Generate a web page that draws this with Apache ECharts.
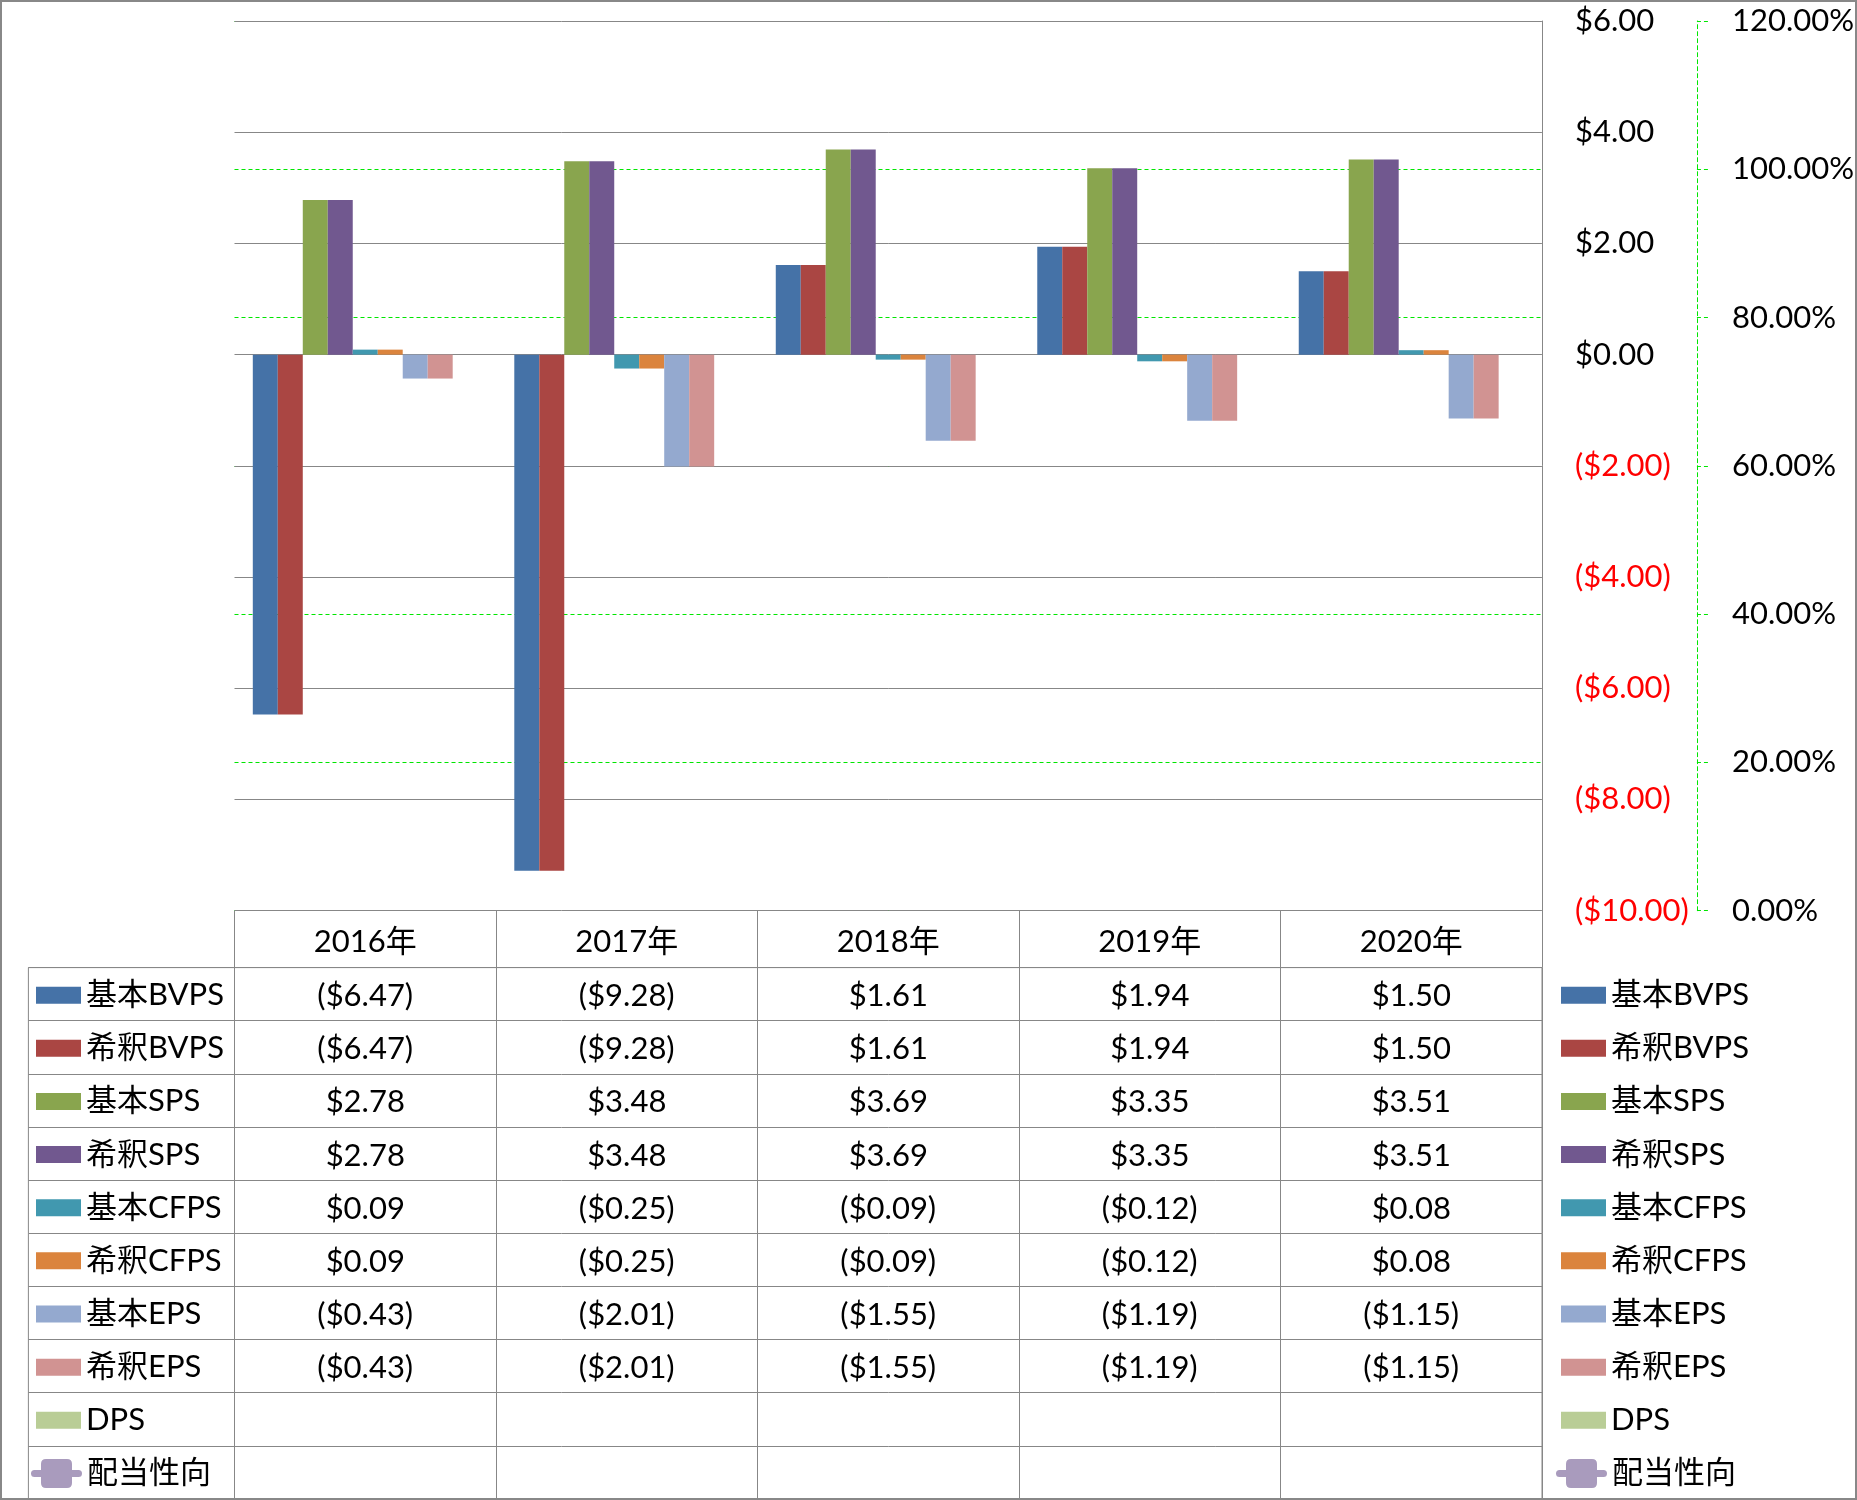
<!DOCTYPE html>
<html><head><meta charset="utf-8">
<script src="https://cdn.jsdelivr.net/npm/echarts/dist/echarts.min.js"></script>
<style>
html,body{margin:0;padding:0;background:#fff}
#wrap{position:relative;width:1857px;height:1500px}
#c{position:absolute;left:0;top:0;width:1857px;height:1500px}
#frame{position:absolute;left:0;top:0;width:1857px;height:1500px;box-sizing:border-box;border:2px solid #888;pointer-events:none;z-index:10}
</style>
</head><body>
<div id="wrap"><div id="c"></div><div id="frame"></div></div>
<script>
// ---------- data ----------
const years = ['2016年', '2017年', '2018年', '2019年', '2020年'];
const seriesNames = ['基本BVPS', '希釈BVPS', '基本SPS', '希釈SPS', '基本CFPS', '希釈CFPS', '基本EPS', '希釈EPS', 'DPS', '配当性向'];
const basicBVPS   = [-6.47, -9.28, 1.61, 1.94, 1.50];
const dilutedBVPS = [-6.47, -9.28, 1.61, 1.94, 1.50];
const basicSPS    = [2.78, 3.48, 3.69, 3.35, 3.51];
const dilutedSPS  = [2.78, 3.48, 3.69, 3.35, 3.51];
const basicCFPS   = [0.09, -0.25, -0.09, -0.12, 0.08];
const dilutedCFPS = [0.09, -0.25, -0.09, -0.12, 0.08];
const basicEPS    = [-0.43, -2.01, -1.55, -1.19, -1.15];
const dilutedEPS  = [-0.43, -2.01, -1.55, -1.19, -1.15];
const dps         = [null, null, null, null, null];
const payoutRatio = [null, null, null, null, null];
const primaryAxis = { min: -10, max: 6, interval: 2 };
const secondaryAxis = { min: 0, max: 120, interval: 20 };

// ---------- styles ----------
const colors = ['#4572A7', '#AA4643', '#89A54E', '#71588F', '#4198AF', '#DB843D', '#94A9CF', '#D19392', '#B9CD96', '#A99BBD'];
const FONT = "Lato, 'Noto Sans CJK JP', sans-serif";
const FS = 31;
const GRAY = '#878787';
const GREEN = '#00E600';

const rows = [basicBVPS, dilutedBVPS, basicSPS, dilutedSPS, basicCFPS, dilutedCFPS, basicEPS, dilutedEPS, dps, payoutRatio];

function money(v) {
  v = Number(v);
  return v < 0 ? '($' + Math.abs(v).toFixed(2) + ')' : '$' + v.toFixed(2);
}

// layout
const PL = 234.5, PW = 1307.5, PT = 21, PH = 889.7;
const TT = 967.6, TH = 531.4, rowH = TH / 10;

const cellData = [];
rows.forEach((arr, r) => arr.forEach((v, c) => { if (v !== null) cellData.push([c, r, v]); }));

const barSeries = seriesNames.slice(0, 9).map((name, i) => ({
  name: name, type: 'bar', xAxisIndex: 0, yAxisIndex: 0,
  data: rows[i], barGap: '0%', barCategoryGap: '14%',
  itemStyle: { color: colors[i] }, z: 3
}));

const lineSeries = {
  name: '配当性向', type: 'line', xAxisIndex: 0, yAxisIndex: 1,
  data: payoutRatio, symbol: 'roundRect', symbolSize: 14,
  itemStyle: { color: colors[9], borderWidth: 0 }, lineStyle: { color: colors[9], width: 5 }
};

const lineIcon = 'path://M15,0 L36,0 Q41,0 41,5 L41,11 L47.5,11 Q51,11 51,14.5 Q51,18 47.5,18 L41,18 L41,24 Q41,29 36,29 L15,29 Q10,29 10,24 L10,18 L3.5,18 Q0,18 0,14.5 Q0,11 3.5,11 L10,11 L10,5 Q10,0 15,0 Z';

const legendText = { fontSize: FS, fontFamily: FONT, color: '#000', lineHeight: rowH };
const barLegend = (left) => ({
  orient: 'vertical', left: left, top: TT + 1, itemWidth: 45, itemHeight: 17, itemGap: 0, padding: 0,
  icon: 'rect', selectedMode: false, textStyle: legendText, data: seriesNames.slice(0, 9),
  itemStyle: { borderWidth: 0 }
});
const lineLegend = (left) => ({
  orient: 'vertical', left: left, top: TT + 9 * rowH + 1, itemWidth: 51, itemHeight: 29, itemGap: 0, padding: 0,
  selectedMode: false, textStyle: legendText, symbolKeepAspect: false,
  data: [{ name: '配当性向', icon: lineIcon, itemStyle: { color: colors[9], borderWidth: 0 } }]
});

const option = {
  animation: false,
  textStyle: { fontFamily: FONT },
  legend: [barLegend(36), barLegend(1561), lineLegend(31), lineLegend(1556)],
  grid: [
    { left: PL, top: PT, width: PW, height: PH, show: false },
    { left: PL, top: TT, width: PW, height: TH, show: true, borderColor: GRAY, borderWidth: 1, backgroundColor: 'transparent' },
    { left: 28.4, top: TT, width: PL - 28.4, height: TH, show: true, borderColor: GRAY, borderWidth: 1, backgroundColor: 'transparent' }
  ],
  xAxis: [
    { type: 'category', gridIndex: 0, data: years, axisLine: { show: false }, axisTick: { show: false }, axisLabel: { show: false }, splitLine: { show: false } },
    { type: 'category', gridIndex: 1, data: years, position: 'top',
      axisLine: { show: true, lineStyle: { color: GRAY, width: 1 } },
      axisTick: { show: true, length: TT - (PT + PH), interval: 0, lineStyle: { color: GRAY, width: 1 } },
      axisLabel: { show: true, interval: 0, margin: 26, verticalAlign: 'middle', fontSize: FS, fontFamily: FONT, color: '#000' },
      splitLine: { show: true, interval: 0, lineStyle: { color: GRAY, width: 1 } } },
    { type: 'category', gridIndex: 2, data: [''], show: false }
  ],
  yAxis: [
    { type: 'value', gridIndex: 0, position: 'right', min: primaryAxis.min, max: primaryAxis.max, interval: primaryAxis.interval, z: 2,
      axisLine: { show: true, lineStyle: { color: GRAY, width: 1 } }, axisTick: { show: false },
      axisLabel: { margin: 33, fontSize: FS, fontFamily: FONT, formatter: money, color: function (v) { return Number(v) < 0 ? '#FF0000' : '#000000'; } },
      splitLine: { show: true, lineStyle: { color: GRAY, width: 1 } } },
    { type: 'value', gridIndex: 0, position: 'right', offset: 155, min: secondaryAxis.min, max: secondaryAxis.max, interval: secondaryAxis.interval, z: 1,
      axisLine: { show: true, lineStyle: { color: GREEN, width: 1, type: [4, 3] } },
      axisTick: { show: true, length: 12, lineStyle: { color: GREEN, width: 1, type: [4, 3] } },
      axisLabel: { margin: 35, fontSize: FS, fontFamily: FONT, color: '#000', formatter: function (v) { return Number(v).toFixed(2) + '%'; } },
      splitLine: { show: true, lineStyle: { color: GREEN, width: 1.2, type: [4, 3] } } },
    { type: 'category', gridIndex: 1, data: seriesNames, inverse: true,
      axisLine: { show: false }, axisTick: { show: false }, axisLabel: { show: false },
      splitLine: { show: true, interval: 0, lineStyle: { color: GRAY, width: 1 } } },
    { type: 'category', gridIndex: 2, data: seriesNames, inverse: true,
      axisLine: { show: false }, axisTick: { show: false }, axisLabel: { show: false },
      splitLine: { show: true, interval: 0, lineStyle: { color: GRAY, width: 1 } } }
  ],
  series: barSeries.concat([lineSeries, {
    type: 'custom', name: 'table', xAxisIndex: 1, yAxisIndex: 2, data: cellData,
    encode: { x: 0, y: 1 }, silent: true,
    renderItem: function (params, api) {
      const v = api.value(2);
      if (v === null || isNaN(v)) return null;
      const p = api.coord([api.value(0), api.value(1)]);
      return { type: 'text', x: p[0], y: p[1] + 2,
        style: { text: money(v), fill: '#000', fontSize: FS, fontFamily: FONT,
          align: 'center', verticalAlign: 'middle', textAlign: 'center', textVerticalAlign: 'middle' } };
    }
  }])
};

const chart = echarts.init(document.getElementById('c'));
chart.setOption(option);
</script>
</body></html>
